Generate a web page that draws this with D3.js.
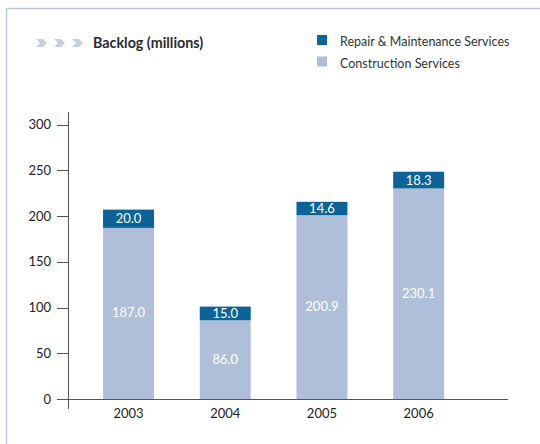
<!DOCTYPE html>
<html><head><meta charset="utf-8">
<script src="https://cdn.jsdelivr.net/npm/d3@7"></script>
<style>body{margin:0;background:#fff}svg{display:block;font-family:"Lato","Noto Sans",sans-serif}</style>
</head><body><svg id="c" width="540" height="444"></svg>
<script>
const years = ["2003","2004","2005","2006"];
const construction = [187.0, 86.0, 200.9, 230.1];
const repair = [20.0, 15.0, 14.6, 18.3];
const yTicks = [0,50,100,150,200,250,300];
const seriesNames = ["Repair & Maintenance Services","Construction Services"];
const colors = {repair:"#0b6398", construction:"#b0bfd9"};

const svg = d3.select("#c");
// frame
svg.append("line").attr("x1",6).attr("x2",540).attr("y1",8.5).attr("y2",8.5).attr("stroke","#b9c8e0").attr("stroke-width",1.5);
svg.append("line").attr("x1",6.5).attr("x2",6.5).attr("y1",8).attr("y2",444).attr("stroke","#b9c8e0").attr("stroke-width",1.5);

// chevrons
[36,54,72].forEach(x=>{
  svg.append("path").attr("d",`M${x},39 L${x+7},39 L${x+11},43 L${x+7},47 L${x},47 L${x+4},43 Z`).attr("fill","#c9cdd5");
});
svg.append("text").attr("x",93).attr("y",48).attr("font-weight","bold").attr("font-size",14.3).attr("fill","#2b2b2b").text("Backlog (millions)");

// legend
const leg = svg.append("g");
[colors.repair, colors.construction].forEach((c,i)=>{
  leg.append("rect").attr("x",317).attr("y",35+i*21.5).attr("width",10).attr("height",10).attr("fill",c);
  leg.append("text").attr("x",340).attr("y",46+i*21.5).attr("font-size",12.5).attr("fill","#333").text(seriesNames[i]);
});

const y = d3.scaleLinear().domain([0,300]).range([399,124.5]);
const x = d3.scaleBand().domain(years).range([54.7,492.5]).paddingInner(0.473).paddingOuter(0.5);

// y axis
svg.append("line").attr("x1",68.5).attr("x2",68.5).attr("y1",112).attr("y2",409).attr("stroke","#555").attr("stroke-width",1);
const ya = svg.append("g");
yTicks.forEach(t=>{
  ya.append("line").attr("x1",57).attr("x2",68).attr("y1",Math.round(y(t))+0.5).attr("y2",Math.round(y(t))+0.5).attr("stroke","#555");
  ya.append("text").attr("x",51).attr("y",y(t)+4.5).attr("text-anchor","end").attr("font-size",13).attr("fill","#222").text(t);
});

// bars
years.forEach((yr,i)=>{
  const bx = x(yr), bw = x.bandwidth();
  const c0 = y(0), c1 = y(construction[i]), r1 = y(construction[i]+repair[i]);
  svg.append("rect").attr("x",bx).attr("y",c1).attr("width",bw).attr("height",c0-c1).attr("fill",colors.construction);
  svg.append("rect").attr("x",bx).attr("y",r1).attr("width",bw).attr("height",c1-r1).attr("fill",colors.repair);
  svg.append("text").attr("x",bx+bw/2).attr("y",(c1+r1)/2+4.5).attr("text-anchor","middle").attr("font-size",13).attr("fill","#fff").text(repair[i].toFixed(1));
  svg.append("text").attr("x",bx+bw/2).attr("y",(c0+c1)/2+4).attr("text-anchor","middle").attr("font-size",13).attr("fill","#fff").text(construction[i].toFixed(1));
  svg.append("text").attr("x",bx+bw/2).attr("y",418).attr("text-anchor","middle").attr("font-size",13).attr("fill","#222").text(yr);
});

// x axis
svg.append("line").attr("x1",57).attr("x2",508).attr("y1",399.5).attr("y2",399.5).attr("stroke","#555").attr("stroke-width",1.2);
</script></body></html>
